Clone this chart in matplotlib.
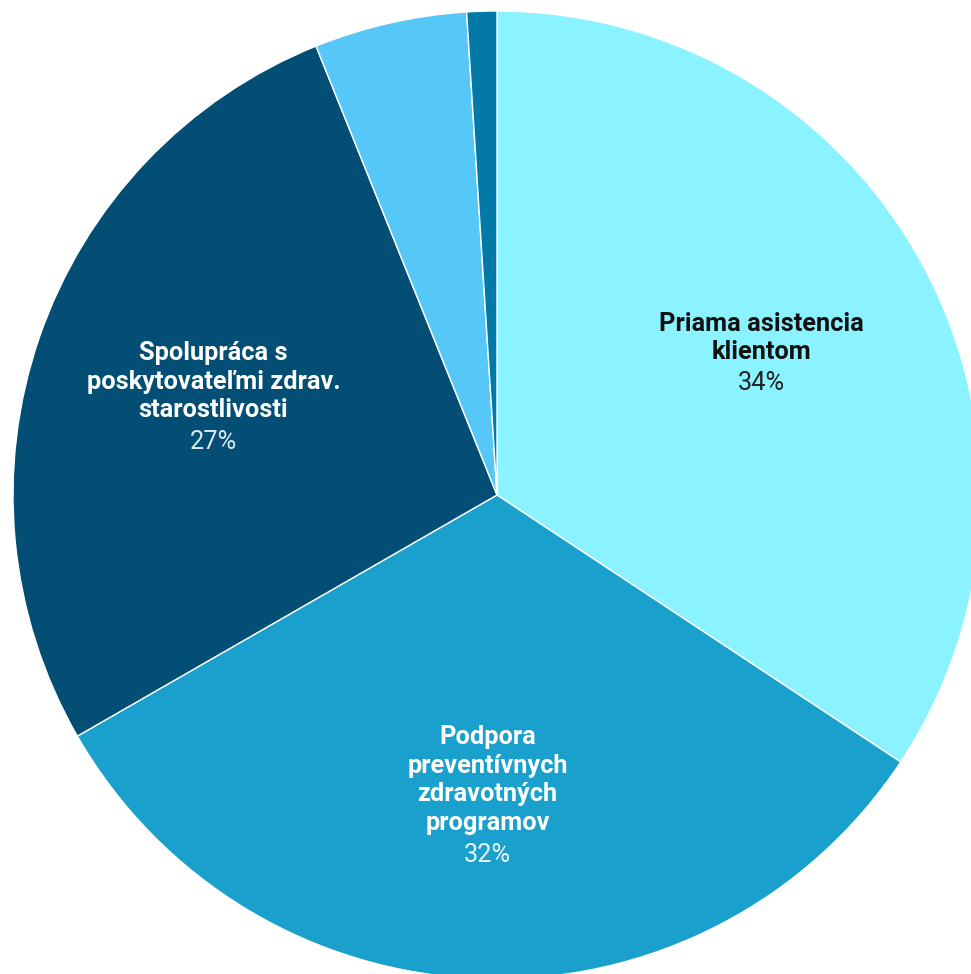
import matplotlib
matplotlib.use("Agg")
import matplotlib.pyplot as plt
import numpy as np

categories = ["Priama asistencia\nklientom",
              "Podpora\npreventívnych\nzdravotných\nprogramov",
              "Spolupráca s\nposkytovateľmi zdrav.\nstarostlivosti",
              "", ""]
values = [34.3, 32.4, 27.2, 5.1, 1.0]
pct_labels = ["34%", "32%", "27%", "", ""]
colors = ["#8AF3FF", "#19A0CC", "#024E74", "#56C8F7", "#0279A6"]
name_colors = ["#111111", "#ffffff", "#ffffff", "#ffffff", "#ffffff"]
pct_colors = ["#222222", "#e8f6fb", "#dfe8ee", "#ffffff", "#ffffff"]

W, H, DPI = 971, 974, 100
fig = plt.figure(figsize=(W / DPI, H / DPI), dpi=DPI)
ax = fig.add_axes([0, 0, 1, 1])
R = 484.0
cx, cy = 497.0, 495.0

wedges, _ = ax.pie(values, startangle=90, counterclock=False, colors=colors,
                   radius=1.0, center=(0, 0), frame=True,
                   wedgeprops=dict(edgecolor="white", linewidth=1.0))
ax.set_xlim(-cx / R, (W - cx) / R)
ax.set_ylim(-(H - cy) / R, cy / R)
ax.set_aspect("equal")
ax.axis("off")

L_px = 30.0
pt = 72.0 / DPI
fs = 18.3
for w, name, pct, nc, pc in zip(wedges, categories, pct_labels, name_colors, pct_colors):
    if not name:
        continue
    mid = np.deg2rad((w.theta1 + w.theta2) / 2)
    P = (0.62 * np.cos(mid), 0.62 * np.sin(mid))
    n = name.count("\n") + 1
    N = n + 1
    ax.annotate(name, xy=P, xytext=(0, L_px / 2 * pt), textcoords="offset points",
                ha="center", va="center", fontsize=fs, fontweight="bold",
                family=["Roboto", "DejaVu Sans"], color=nc, linespacing=1.24,
                multialignment="center")
    ax.annotate(pct, xy=P, xytext=(0, -(N - 1) / 2 * L_px * pt), textcoords="offset points",
                ha="center", va="center", fontsize=fs, fontweight="normal",
                family=["Roboto", "DejaVu Sans"], color=pc)

fig.savefig("out.png", dpi=DPI)
